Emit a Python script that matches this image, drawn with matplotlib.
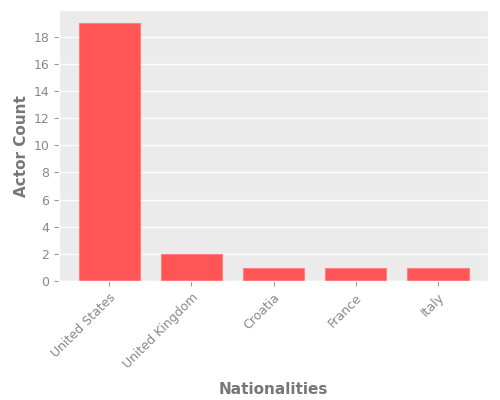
import matplotlib
matplotlib.use("Agg")
import matplotlib.pyplot as plt
from matplotlib.ticker import MultipleLocator

nationalities = ["United States", "United Kingdom", "Croatia", "France", "Italy"]
counts = [19, 2, 1, 1, 1]

plt.style.use("ggplot")
fig, ax = plt.subplots(figsize=(5, 4), dpi=100)
ax.set_facecolor("#EBEBEB")
ax.bar(range(len(nationalities)), counts, width=0.75, color="#FF5555", edgecolor="#FF8080", linewidth=0.8)
ax.set_xticks(range(len(nationalities)))
ax.set_xticklabels(nationalities, rotation=45, ha="right", rotation_mode="anchor", fontsize=9)
ax.yaxis.set_major_locator(MultipleLocator(2))
ax.tick_params(axis="y", labelsize=9)
ax.grid(axis="x", visible=False)
ax.grid(axis="y", color="white", linewidth=1)
ax.set_xlabel("Nationalities", fontweight="semibold", color="#777777", fontsize=11, labelpad=8)
ax.set_ylabel("Actor Count", fontweight="semibold", color="#777777", fontsize=11, labelpad=3)
ax.tick_params(colors="#999999", labelcolor="#888888")
fig.subplots_adjust(left=0.118, right=0.976, top=0.975, bottom=0.297)
fig.savefig("out.png", dpi=100)
